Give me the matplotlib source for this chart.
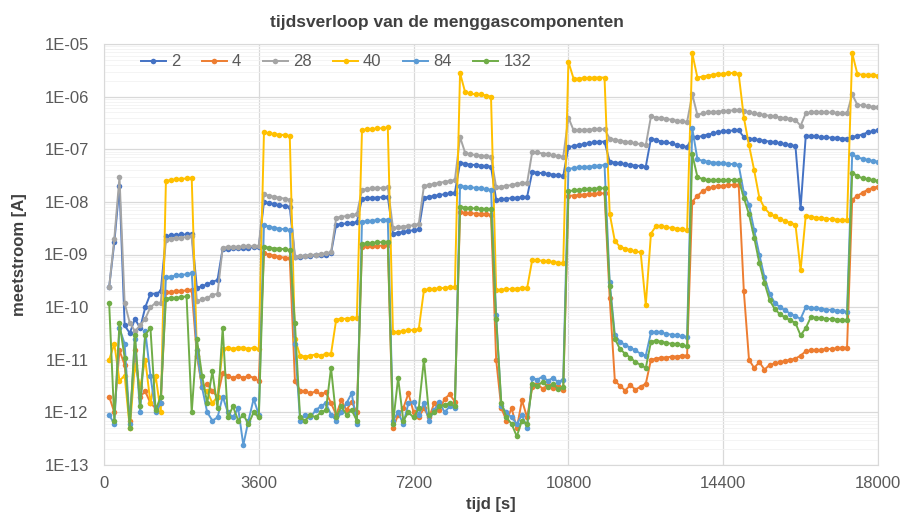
import math
import matplotlib
matplotlib.use("Agg")
import matplotlib.pyplot as plt
from matplotlib.ticker import FixedLocator, FuncFormatter, LogLocator, NullFormatter

plt.rcParams["font.family"] = ["Liberation Sans", "DejaVu Sans"]

# meettijdstippen [s]
tijd = [
    120, 240, 360, 480, 600, 720, 840, 960, 1080, 1200,
    1320, 1440, 1560, 1680, 1800, 1920, 2040, 2160, 2280, 2400,
    2520, 2640, 2760, 2880, 3000, 3120, 3240, 3360, 3480, 3600,
    3720, 3840, 3960, 4080, 4200, 4320, 4440, 4560, 4680, 4800,
    4920, 5040, 5160, 5280, 5400, 5520, 5640, 5760, 5880, 6000,
    6120, 6240, 6360, 6480, 6600, 6720, 6840, 6960, 7080, 7200,
    7320, 7440, 7560, 7680, 7800, 7920, 8040, 8160, 8280, 8400,
    8520, 8640, 8760, 8880, 9000, 9120, 9240, 9360, 9480, 9600,
    9720, 9840, 9960, 10080, 10200, 10320, 10440, 10560, 10680, 10800,
    10920, 11040, 11160, 11280, 11400, 11520, 11640, 11760, 11880, 12000,
    12120, 12240, 12360, 12480, 12600, 12720, 12840, 12960, 13080, 13200,
    13320, 13440, 13560, 13680, 13800, 13920, 14040, 14160, 14280, 14400,
    14520, 14640, 14760, 14880, 15000, 15120, 15240, 15360, 15480, 15600,
    15720, 15840, 15960, 16080, 16200, 16320, 16440, 16560, 16680, 16800,
    16920, 17040, 17160, 17280, 17400, 17520, 17640, 17760, 17880, 18000,
]

m2 = [
    2.4e-10, 1.7e-9, 2e-8, 4.5e-11, 3.2e-11, 6e-11, 4e-11, 1e-10, 1.8e-10, 1.8e-10, 2e-10,
    2.2e-9, 2.3e-9, 2.3e-9, 2.4e-9, 2.4e-9, 2.5e-9,
    2.3e-10, 2.5e-10, 2.7e-10, 3e-10, 3.3e-10,
    1.3e-9, 1.3e-9, 1.32e-9, 1.33e-9, 1.35e-9, 1.35e-9, 1.37e-9, 1.38e-9,
    1e-8, 9.5e-9, 9e-9, 8.7e-9, 8.3e-9, 8e-9,
    8.8e-10, 9e-10, 9.2e-10, 9.4e-10, 9.6e-10, 9.8e-10, 1e-9, 1.05e-9,
    3.7e-9, 3.8e-9, 3.9e-9, 4e-9, 4.1e-9,
    1.15e-8, 1.17e-8, 1.19e-8, 1.21e-8, 1.23e-8, 1.25e-8,
    2.5e-9, 2.6e-9, 2.7e-9, 2.8e-9, 2.9e-9, 3e-9,
    1.2e-8, 1.25e-8, 1.3e-8, 1.35e-8, 1.4e-8, 1.45e-8, 1.5e-8,
    5.5e-8, 5.3e-8, 5.1e-8, 5e-8, 4.9e-8, 4.8e-8, 4.7e-8,
    1.1e-8, 1.12e-8, 1.15e-8, 1.18e-8, 1.2e-8, 1.22e-8, 1.25e-8,
    3.7e-8, 3.6e-8, 3.5e-8, 3.4e-8, 3.3e-8, 3.2e-8, 3.1e-8,
    1.1e-7, 1.15e-7, 1.2e-7, 1.25e-7, 1.3e-7, 1.35e-7, 1.38e-7, 1.4e-7,
    5.8e-8, 5.6e-8, 5.4e-8, 5.2e-8, 5e-8, 4.9e-8, 4.8e-8, 4.7e-8,
    1.6e-7, 1.5e-7, 1.4e-7, 1.35e-7, 1.3e-7, 1.2e-7, 1.15e-7, 1.1e-7,
    1.7e-7, 1.7e-7, 1.8e-7, 1.9e-7, 2e-7, 2.1e-7, 2.2e-7, 2.2e-7, 2.3e-7, 2.3e-7,
    1.7e-7, 1.6e-7, 1.55e-7, 1.5e-7, 1.45e-7, 1.4e-7, 1.35e-7, 1.3e-7, 1.25e-7, 1.2e-7, 1.15e-7,
    7.5e-9, 1.8e-7, 1.8e-7, 1.75e-7, 1.7e-7, 1.7e-7, 1.65e-7, 1.65e-7, 1.6e-7, 1.6e-7,
    1.7e-7, 1.8e-7, 1.9e-7, 2.1e-7, 2.2e-7, 2.3e-7,
]

m4 = [
    2e-12, 1e-12, 1.5e-11, 8e-12, 7e-13, 1.5e-11, 2e-12, 2.5e-12, 1.5e-12, 1.2e-12, 1.5e-12,
    1.9e-10, 1.95e-10, 2e-10, 2e-10, 2.1e-10, 2.1e-10,
    1.2e-11, 3e-12, 3.5e-12, 2.5e-12, 2e-12,
    5.5e-12, 5e-12, 4.5e-12, 5e-12, 4.5e-12, 5e-12, 4.5e-12, 4e-12,
    1.05e-9, 1e-9, 9.5e-10, 9e-10, 8.7e-10, 8.5e-10,
    4e-12, 2.6e-12, 2.5e-12, 2.3e-12, 2.5e-12, 2.2e-12, 2.4e-12, 1.5e-12,
    9e-13, 1.7e-12, 1.1e-12, 1.6e-12, 1e-12,
    1.4e-9, 1.42e-9, 1.44e-9, 1.46e-9, 1.48e-9, 1.5e-9,
    5e-13, 9e-13, 1.2e-12, 2.3e-12, 1e-12, 8e-13,
    1.2e-12, 8e-13, 1.5e-12, 1.1e-12, 1.8e-12, 2.2e-12, 1.6e-12,
    6.3e-9, 6.2e-9, 6.1e-9, 6e-9, 5.9e-9, 5.8e-9, 5.7e-9,
    1e-11, 1.2e-12, 7e-13, 1.2e-12, 5e-13, 1.7e-12, 8e-13,
    3e-12, 3.5e-12, 2.8e-12, 3.3e-12, 2.9e-12, 3.2e-12, 2.7e-12,
    1.3e-8, 1.32e-8, 1.35e-8, 1.37e-8, 1.4e-8, 1.42e-8, 1.45e-8, 1.45e-8,
    1.5e-10, 4e-12, 3.2e-12, 2.6e-12, 3.3e-12, 2.7e-12, 3.1e-12, 3.5e-12,
    1e-11, 1.05e-11, 1.1e-11, 1.1e-11, 1.15e-11, 1.15e-11, 1.2e-11, 1.2e-11,
    1e-8, 1.3e-8, 1.6e-8, 1.8e-8, 1.9e-8, 2e-8, 2e-8, 2.1e-8, 2.1e-8, 2.1e-8,
    2e-10, 1e-11, 7e-12, 9e-12, 6.5e-12, 8e-12, 8.5e-12, 9e-12, 9.5e-12, 1e-11, 1.05e-11,
    1.2e-11, 1.45e-11, 1.5e-11, 1.5e-11, 1.55e-11, 1.6e-11, 1.6e-11, 1.65e-11, 1.7e-11, 1.7e-11,
    1.1e-8, 1.3e-8, 1.5e-8, 1.7e-8, 1.85e-8, 1.95e-8,
]

m28 = [
    2.4e-10, 2e-9, 3e-8, 1.2e-10, 5e-11, 3.5e-11, 4.5e-11, 6e-11, 1e-10, 1.2e-10, 1.2e-10,
    1.9e-9, 2e-9, 2.05e-9, 2.1e-9, 2.15e-9, 2.2e-9,
    1.3e-10, 1.4e-10, 1.5e-10, 1.7e-10, 1.8e-10,
    1.35e-9, 1.38e-9, 1.4e-9, 1.4e-9, 1.42e-9, 1.42e-9, 1.44e-9, 1.45e-9,
    1.4e-8, 1.3e-8, 1.25e-8, 1.2e-8, 1.15e-8, 1.1e-8,
    9e-10, 9.2e-10, 9.5e-10, 9.7e-10, 1e-9, 1.02e-9, 1.05e-9, 1.1e-9,
    5e-9, 5.2e-9, 5.4e-9, 5.6e-9, 5.8e-9,
    1.7e-8, 1.75e-8, 1.8e-8, 1.8e-8, 1.85e-8, 1.9e-8,
    3.2e-9, 3.3e-9, 3.4e-9, 3.5e-9, 3.6e-9, 3.8e-9,
    2e-8, 2.1e-8, 2.2e-8, 2.3e-8, 2.4e-8, 2.5e-8, 2.6e-8,
    1.7e-7, 8.5e-8, 8e-8, 7.8e-8, 7.6e-8, 7.4e-8, 7.2e-8,
    1.9e-8, 1.95e-8, 2e-8, 2.1e-8, 2.2e-8, 2.25e-8, 2.3e-8,
    9e-8, 8.7e-8, 8.3e-8, 8e-8, 7.7e-8, 7.4e-8, 7.2e-8,
    4e-7, 2.3e-7, 2.3e-7, 2.35e-7, 2.35e-7, 2.4e-7, 2.4e-7, 2.4e-7,
    1.6e-7, 1.5e-7, 1.45e-7, 1.4e-7, 1.35e-7, 1.3e-7, 1.25e-7, 1.2e-7,
    4.2e-7, 4e-7, 3.9e-7, 3.8e-7, 3.6e-7, 3.5e-7, 3.4e-7, 3.3e-7,
    1.1e-6, 4.5e-7, 4.8e-7, 5e-7, 5.1e-7, 5.2e-7, 5.3e-7, 5.4e-7, 5.5e-7, 5.5e-7,
    5.3e-7, 5e-7, 4.8e-7, 4.6e-7, 4.5e-7, 4.3e-7, 4.2e-7, 4e-7, 3.9e-7, 3.8e-7, 3.6e-7,
    2.8e-7, 4.8e-7, 5e-7, 5e-7, 5.1e-7, 5e-7, 5e-7, 4.9e-7, 4.8e-7, 4.8e-7,
    1.1e-6, 7e-7, 6.8e-7, 6.6e-7, 6.4e-7, 6.3e-7,
]

m40 = [
    1e-11, 2e-11, 4e-12, 5e-12, 5e-13, 8e-12, 3e-12, 1e-11, 1.5e-12, 5e-12, 1e-12,
    2.5e-8, 2.6e-8, 2.7e-8, 2.7e-8, 2.8e-8, 2.8e-8,
    1.5e-11, 3e-12, 2.5e-12, 1.5e-12, 2e-12,
    1.6e-11, 1.7e-11, 1.6e-11, 1.7e-11, 1.7e-11, 1.6e-11, 1.7e-11, 1.6e-11,
    2.1e-7, 2e-7, 1.95e-7, 1.9e-7, 1.85e-7, 1.8e-7,
    2.5e-11, 1.2e-11, 1.15e-11, 1.2e-11, 1.25e-11, 1.2e-11, 1.3e-11, 1.3e-11,
    5.8e-11, 6e-11, 6e-11, 6.2e-11, 6.3e-11,
    2.3e-7, 2.4e-7, 2.4e-7, 2.5e-7, 2.5e-7, 2.6e-7,
    3.3e-11, 3.4e-11, 3.5e-11, 3.6e-11, 3.7e-11, 3.8e-11,
    2.1e-10, 2.2e-10, 2.2e-10, 2.3e-10, 2.3e-10, 2.4e-10, 2.4e-10,
    2.8e-6, 1.2e-6, 1.15e-6, 1.1e-6, 1.1e-6, 1.05e-6, 1e-6,
    2.1e-10, 2.15e-10, 2.2e-10, 2.2e-10, 2.25e-10, 2.3e-10, 2.3e-10,
    8e-10, 7.8e-10, 7.6e-10, 7.4e-10, 7.2e-10, 7e-10, 6.8e-10,
    4.6e-6, 2.2e-6, 2.2e-6, 2.25e-6, 2.25e-6, 2.3e-6, 2.3e-6, 2.3e-6,
    6e-9, 1.8e-9, 1.4e-9, 1.3e-9, 1.2e-9, 1.15e-9, 1.1e-9, 1.1e-10,
    2.5e-9, 3.5e-9, 3.5e-9, 3.3e-9, 3.2e-9, 3.1e-9, 3e-9, 2.9e-9,
    6.7e-6, 2.3e-6, 2.4e-6, 2.5e-6, 2.6e-6, 2.7e-6, 2.7e-6, 2.8e-6, 2.8e-6, 2.7e-6,
    4e-7, 1.2e-7, 4e-8, 1.2e-8, 7.6e-9, 6e-9, 5.3e-9, 4.7e-9, 4.3e-9, 4e-9, 3.7e-9,
    5e-10, 5.5e-9, 5.2e-9, 5e-9, 4.9e-9, 4.8e-9, 4.7e-9, 4.6e-9, 4.5e-9, 4.5e-9,
    6.7e-6, 2.7e-6, 2.6e-6, 2.6e-6, 2.6e-6, 2.5e-6,
]

m84 = [
    9e-13, 6e-13, 4e-11, 2e-11, 6e-13, 2.5e-11, 1e-12, 3.5e-11, 5e-12, 1e-12, 1.5e-12,
    3.7e-10, 3.8e-10, 4e-10, 4.1e-10, 4.2e-10, 4.4e-10,
    1.5e-11, 3e-12, 1e-12, 7e-13, 8e-13,
    2e-12, 1e-12, 8e-13, 1.2e-12, 2.4e-13, 7e-13, 1.8e-12, 9e-13,
    3.6e-9, 3.4e-9, 3.2e-9, 3.1e-9, 3e-9, 2.9e-9,
    2e-11, 7e-13, 9e-13, 8e-13, 1.1e-12, 1.3e-12, 1.5e-12, 9e-13,
    7e-13, 1e-12, 1.5e-12, 2.3e-12, 6e-13,
    4.2e-9, 4.3e-9, 4.4e-9, 4.5e-9, 4.5e-9, 4.6e-9,
    7e-13, 1e-12, 6e-13, 1.5e-12, 1.6e-12, 9e-13,
    1.5e-12, 7e-13, 1.1e-12, 1.6e-12, 1e-12, 1.3e-12, 1.2e-12,
    2e-8, 1.95e-8, 1.9e-8, 1.85e-8, 1.8e-8, 1.75e-8, 1.7e-8,
    7e-11, 1.3e-12, 1e-12, 8e-13, 6e-13, 9e-13, 5e-13,
    4.5e-12, 4.2e-12, 4.8e-12, 4e-12, 4.5e-12, 3.8e-12, 4.2e-12,
    4.2e-8, 4.4e-8, 4.5e-8, 4.6e-8, 4.7e-8, 4.8e-8, 4.9e-8, 5e-8,
    3e-10, 3e-11, 2.2e-11, 1.9e-11, 1.7e-11, 1.5e-11, 1.3e-11, 1.2e-11,
    3.3e-11, 3.4e-11, 3.3e-11, 3.1e-11, 3e-11, 2.9e-11, 2.8e-11, 2.7e-11,
    2.5e-7, 6.5e-8, 6e-8, 5.8e-8, 5.6e-8, 5.5e-8, 5.4e-8, 5.3e-8, 5.2e-8, 5e-8,
    1.5e-8, 8.7e-9, 2.9e-9, 1e-9, 3.7e-10, 1.8e-10, 1.2e-10, 1e-10, 8.7e-11, 7.5e-11, 6.7e-11,
    6e-11, 1e-10, 9.8e-11, 9.5e-11, 9.3e-11, 9e-11, 8.8e-11, 8.6e-11, 8.4e-11, 8.2e-11,
    8e-8, 7e-8, 6.6e-8, 6.3e-8, 6e-8, 5.8e-8,
]

m132 = [
    1.2e-10, 7e-13, 5e-11, 1.1e-11, 5e-13, 3e-11, 1.3e-12, 3e-11, 4e-11, 1.1e-12, 2e-12,
    1.45e-10, 1.5e-10, 1.5e-10, 1.55e-10, 1.6e-10, 1e-12,
    2.5e-11, 5e-12, 1.5e-12, 6e-12, 1.2e-12,
    4e-11, 8e-13, 1.3e-12, 7e-13, 9e-13, 6e-13, 1e-12, 8e-13,
    1.4e-9, 1.35e-9, 1.3e-9, 1.3e-9, 1.25e-9, 1.2e-9,
    5e-11, 8e-13, 7e-13, 9e-13, 8e-13, 1e-12, 1.1e-12, 7e-12,
    8e-13, 1.3e-12, 9e-13, 1.1e-12, 7e-13,
    1.6e-9, 1.63e-9, 1.66e-9, 1.7e-9, 1.72e-9, 1.75e-9,
    6e-13, 4.5e-12, 7e-13, 1e-12, 8e-13, 1.2e-12,
    1e-11, 9e-13, 1e-12, 1.3e-12, 1.4e-12, 1.5e-12, 1.3e-12,
    8e-9, 7.8e-9, 7.6e-9, 7.5e-9, 7.4e-9, 7.3e-9, 7.2e-9,
    6e-11, 1.5e-12, 8e-13, 6e-13, 3.5e-13, 7e-13, 6e-13,
    3.5e-12, 3.2e-12, 3.8e-12, 3e-12, 3.4e-12, 2.8e-12, 3e-12,
    1.6e-8, 1.65e-8, 1.7e-8, 1.72e-8, 1.75e-8, 1.78e-8, 1.8e-8, 1.82e-8,
    2.5e-10, 2.5e-11, 1.6e-11, 1.3e-11, 1.1e-11, 9e-12, 8e-12, 7e-12,
    2.2e-11, 2.3e-11, 2.2e-11, 2.1e-11, 2e-11, 2e-11, 1.9e-11, 1.8e-11,
    8e-8, 3e-8, 2.7e-8, 2.6e-8, 2.6e-8, 2.6e-8, 2.6e-8, 2.6e-8, 2.6e-8, 2.6e-8,
    1.2e-8, 5.8e-9, 2.1e-9, 7e-10, 2.9e-10, 1.35e-10, 9.2e-11, 7.3e-11, 6.4e-11, 5.6e-11, 5e-11,
    2.9e-11, 4e-11, 6.5e-11, 6.3e-11, 6.1e-11, 6e-11, 5.9e-11, 5.8e-11, 5.7e-11, 5.6e-11,
    3.6e-8, 3.1e-8, 2.8e-8, 2.7e-8, 2.6e-8, 2.5e-8,
]

namen = ["2", "4", "28", "40", "84", "132"]
reeksen = [m2, m4, m28, m40, m84, m132]
kleuren = ["#4472C4", "#ED7D31", "#A5A5A5", "#FFC000", "#5B9BD5", "#70AD47"]
decaden = [1e-13, 1e-12, 1e-11, 1e-10, 1e-9, 1e-8, 1e-7, 1e-6, 1e-5]
x_ticks = [0, 3600, 7200, 10800, 14400, 18000]

W, H = 905, 519
fig = plt.figure(figsize=(W / 100, H / 100), dpi=100)
ax = fig.add_axes([104 / W, 1 - 465 / H, (878 - 104) / W, (465 - 44) / H])

for naam, waarden, kleur in zip(namen, reeksen, kleuren):
    ax.plot(tijd, waarden, color=kleur, lw=1.4, marker="o", ms=4.0,
            mew=0, label=naam)

ax.set_yscale("log")
ax.set_ylim(1e-13, 1e-5)
ax.set_xlim(0, 18000)

ax.xaxis.set_major_locator(FixedLocator(x_ticks))
ax.yaxis.set_major_locator(FixedLocator(decaden))
ax.yaxis.set_minor_locator(LogLocator(base=10, subs=range(2, 10), numticks=20))
ax.yaxis.set_minor_formatter(NullFormatter())
ax.yaxis.set_major_formatter(FuncFormatter(
    lambda v, pos: "1E-%02d" % round(-math.log10(v))))

ax.grid(True, which="major", color="#d9d9d9", lw=0.9)
ax.grid(True, which="minor", axis="y", color="#f2f2f2", lw=0.6)
ax.set_axisbelow(True)
for sp in ax.spines.values():
    sp.set_color("#d9d9d9")

ax.tick_params(which="both", length=0, labelsize=12, colors="#595959")
ax.tick_params(axis="y", pad=11)
ax.tick_params(axis="x", pad=8)

fig.text(447 / W, 1 - 23 / H, "tijdsverloop van de menggascomponenten",
         ha="center", va="center", fontsize=12.5, fontweight="bold", color="#404040")
fig.text(491 / W, 1 - 505 / H, "tijd [s]", ha="center", va="center",
         fontsize=12, fontweight="bold", color="#404040")
fig.text(20 / W, 1 - 255 / H, "meetstroom [A]", ha="center", va="center",
         rotation=90, fontsize=12, fontweight="bold", color="#404040")

leg = ax.legend(loc="center", bbox_to_anchor=(336 / W, 1 - 62 / H),
                bbox_transform=fig.transFigure, ncol=6, frameon=False,
                fontsize=12, handlelength=1.5, handletextpad=0.3,
                columnspacing=1.3)
for t in leg.get_texts():
    t.set_color("#595959")

fig.savefig("out.png", dpi=100)
